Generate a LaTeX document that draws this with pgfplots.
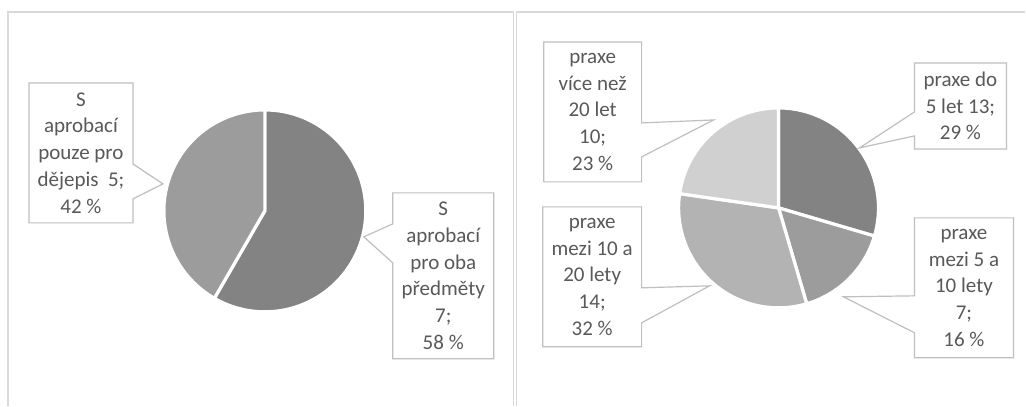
\documentclass[border=0pt]{standalone}
\usepackage{pgfplots}
\pgfplotsset{compat=1.18}
\usepackage{fontspec}
\setmainfont{Carlito}
\definecolor{txt}{HTML}{595959}
\definecolor{frm}{HTML}{D9D9D9}
\definecolor{boxc}{HTML}{BFBFBF}
\definecolor{gA}{HTML}{838383}
\definecolor{gB}{HTML}{9C9C9C}
\definecolor{gC}{HTML}{B3B3B3}
\definecolor{gD}{HTML}{D0D0D0}

% one pie slice: cx, cy (axis cs), radius, start angle, end angle, colour
\newcommand{\slice}[6]{%
  \fill[#6, draw=white, line width=1.6pt, line join=round]
    (axis cs:#1,#2) -- ++({#4}:#3) arc[start angle={#4}, end angle={#5}, radius=#3] -- cycle;}

% callout box, wedge on its right edge: x1 y1 x2 y2 b1 b2 tipx tipy text
\newcommand{\calloutR}[9]{%
  \draw[boxc, line width=0.6pt, fill=white]
    (axis cs:#1,#2) -- (axis cs:#3,#2) -- (axis cs:#3,#5) -- (axis cs:#7,#8)
    -- (axis cs:#3,#6) -- (axis cs:#3,#4) -- (axis cs:#1,#4) -- cycle;
  \node[txt, align=center, inner sep=0pt, font=\fontsize{10.5}{13.35}\selectfont]
    at (axis cs:{(#1+#3)/2},{(#2+#4)/2}) {#9};}
% callout box, wedge on its left edge
\newcommand{\calloutL}[9]{%
  \draw[boxc, line width=0.6pt, fill=white]
    (axis cs:#1,#2) -- (axis cs:#3,#2) -- (axis cs:#3,#4) -- (axis cs:#1,#4)
    -- (axis cs:#1,#6) -- (axis cs:#7,#8) -- (axis cs:#1,#5) -- cycle;
  \node[txt, align=center, inner sep=0pt, font=\fontsize{10.5}{13.35}\selectfont]
    at (axis cs:{(#1+#3)/2},{(#2+#4)/2}) {#9};}

\begin{document}
\begin{tikzpicture}
\begin{axis}[
  scale only axis, width=513pt, height=203pt,
  xmin=0, xmax=1026, ymin=0, ymax=406, y dir=reverse,
  hide axis, clip=false,
]
  \path (axis cs:0,0) rectangle (axis cs:1026,406);
  % frames
  \draw[frm, line width=0.6pt] (axis cs:8,406) -- (axis cs:8,12) -- (axis cs:514,12) -- (axis cs:514,406);
  \draw[frm, line width=0.6pt] (axis cs:517,406) -- (axis cs:517,12) -- (axis cs:1026,12);

  % left pie: oba 7, pouze dejepis 5 (total 12)
  \slice{265}{211}{50.5pt}{90}{90-360*7/12}{gA}
  \slice{265}{211}{50.5pt}{90-360*7/12}{90-360*12/12}{gB}

  % right pie: 13, 7, 14, 10 (total 44)
  \slice{779}{208}{50pt}{90}{90-360*13/44}{gA}
  \slice{779}{208}{50pt}{90-360*13/44}{90-360*20/44}{gB}
  \slice{779}{208}{50pt}{90-360*20/44}{90-360*34/44}{gC}
  \slice{779}{208}{50pt}{90-360*34/44}{90-360*44/44}{gD}

  % labels left chart
  \calloutR{29}{83}{133}{223}{164}{199}{163}{184}{S\\aprobací\\pouze pro\\dějepis\ \ 5;\\42~\%}
  \calloutL{393}{193}{494}{359}{224}{263}{364}{237}{S\\aprobací\\pro oba\\předměty\\7;\\58~\%}

  % labels right chart
  \calloutL{915}{63}{1007}{149}{112}{136}{860}{148}{praxe do\\5 let 13;\\29~\%}
  \calloutL{915}{218}{1014}{358}{296}{333}{844}{297}{praxe\\mezi 5 a\\10 lety\\7;\\16~\%}
  \calloutR{543}{207}{642}{347}{288}{323}{710}{286}{praxe\\mezi 10 a\\20 lety\\14;\\32~\%}
  \calloutR{544}{42}{642}{182}{123}{157}{714}{120}{praxe\\více než\\20 let\\10;\\23~\%}
\end{axis}
\end{tikzpicture}
\end{document}
